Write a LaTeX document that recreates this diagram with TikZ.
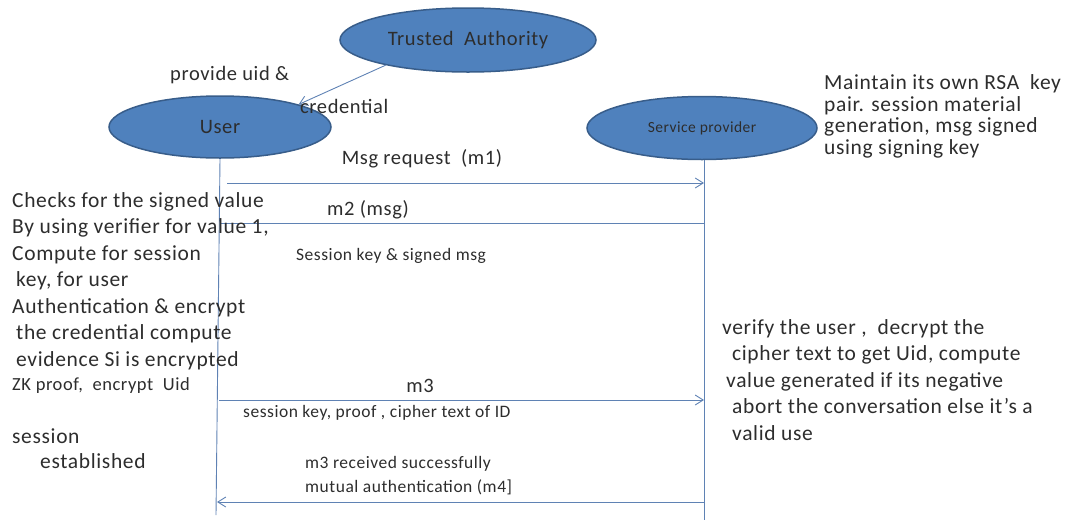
\documentclass[tikz,border=0pt]{standalone}
\usepackage{fontspec}
\setmainfont{Carlito}[LetterSpace=3]
\usetikzlibrary{shapes,positioning,arrows.meta}
\usepackage{xcolor}
\definecolor{actorfill}{RGB}{79,129,189}
\definecolor{actoredge}{RGB}{56,93,138}
\definecolor{wirecol}{RGB}{95,130,180}
\definecolor{ink}{RGB}{45,45,45}

\begin{document}
\begin{tikzpicture}[x=1pt, y=-1pt,
    main/.style = {draw=actoredge, line width=1.5pt, fill=actorfill, ellipse, inner sep=0pt, text=ink},
    wire/.style = {draw=wirecol, line width=0.9pt},
    txt/.style = {anchor=base west, inner sep=0pt, text=ink, align=left, font=\fontsize{21.5}{26.5}\selectfont},
    lbl/.style = {font=\fontsize{20.5}{24}\selectfont},
    small/.style = {font=\fontsize{17.5}{24}\selectfont},
    >={Straight Barb[length=8pt,width=10pt]}]
    \useasboundingbox (0,0) rectangle (1083,520);
    % the three parties
    \node[main, minimum width=256, minimum height=64, font=\fontsize{20.5}{24}\selectfont] (ta) at (468,40) {Trusted\ \ Authority};
    \node[main, minimum width=222, minimum height=62, font=\fontsize{20.5}{24}\selectfont] (user) at (220,127) {User};
    \node[main, minimum width=230, minimum height=63, font=\fontsize{15.5}{20}\selectfont] (sp) at (702,128) {Service provider};
    \draw[wire,->] (ta.197) -- (user.16);
    \node[txt, lbl] (give) at (170,80) {provide uid \&};
    \node[txt, lbl] (cred) at (300,113) {credential};
    % life lines
    \coordinate (u1) at (216,515);
    \coordinate (s1) at (704,520);
    \draw[wire] (user.south) -- (u1);
    \draw[wire] (sp.south -| s1) -- (s1);
    % messages
    \coordinate (m1) at (227,183);
    \coordinate (m2) at (220,223);
    \coordinate (m3) at (219,400);
    \coordinate (m4) at (217,502);
    \draw[wire,->] (m1) -- (m1 -| s1);
    \draw[wire] (m2 -| s1) -- (m2);
    \draw[wire,->] (m3) -- (m3 -| s1);
    \draw[wire,->] (m4 -| s1) -- (m4);
    \node[txt, lbl, anchor=base] (l1) at (422,164) {Msg request\ \ (m1)};
    \node[txt, lbl, anchor=base] (l2) at (368,215) {m2 (msg)};
    \node[txt, small] (l2b) at (296,260) {Session key \& signed msg};
    \node[txt, lbl, anchor=base] (l3) at (420,392) {m3};
    \node[txt, small] (l3b) at (243,417) {session key, proof , cipher text of ID};
    \node[txt, small] (l4) at (305,492) {m3 received successfully\\mutual authentication (m4]};
    % notes
    \node[txt] (userdo) at (12,366) {Checks for the signed value\\By using verifier for value 1,\\Compute for session\\
        \hspace{4pt}key, for user\\Authentication \& encrypt\\\hspace{4pt}the credential compute\\\hspace{4pt}evidence Si is encrypted};
    \node[txt, font=\fontsize{18.5}{24}\selectfont] (zk) at (12,390) {ZK proof,\ \ encrypt\ \ Uid};
    \node[txt, font=\fontsize{21.5}{25}\selectfont] (est) at (12,468) {session\\\hspace{28pt}established};
    \node[txt, font=\fontsize{21.5}{21.5}\selectfont] (spdo) at (824,154) {Maintain its own RSA\ \ key\\pair. session material\\generation, msg signed\\using signing key};
    \node[txt] (check) at (722,440) {verify the user ,\ \ decrypt the\\\hspace{10pt}cipher text to get Uid, compute\\\hspace{4pt}value generated if its negative\\
        \hspace{10pt}abort the conversation else it’s a\\\hspace{10pt}valid use};
\end{tikzpicture}
\end{document}
